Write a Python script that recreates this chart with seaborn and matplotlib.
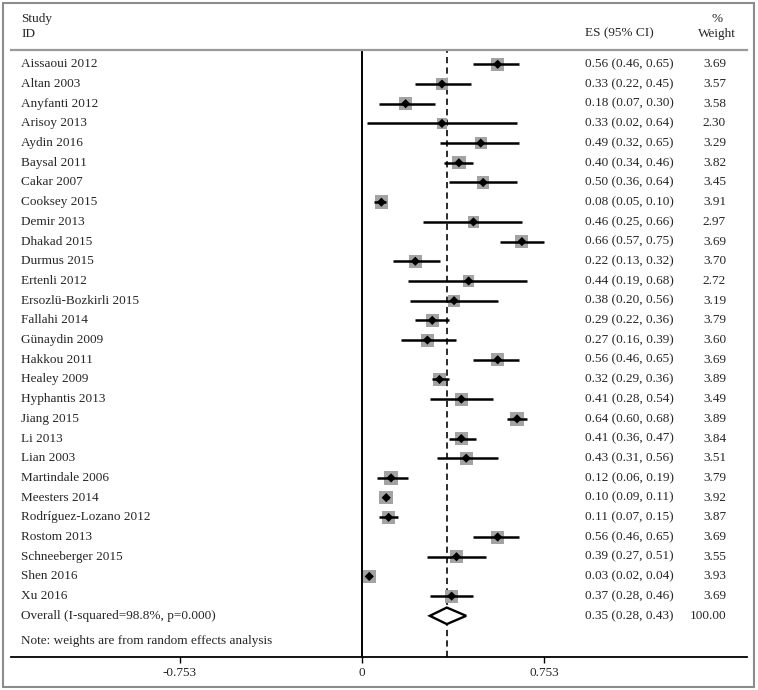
import matplotlib
matplotlib.use("Agg")
import matplotlib.pyplot as plt
import seaborn as sns
import pandas as pd
from matplotlib.patches import Rectangle

studies = [
    "Aissaoui 2012", "Altan 2003", "Anyfanti 2012", "Arisoy 2013", "Aydin 2016",
    "Baysal 2011", "Cakar 2007", "Cooksey 2015", "Demir 2013", "Dhakad 2015",
    "Durmus 2015", "Ertenli 2012", "Ersozlü-Bozkirli 2015", "Fallahi 2014",
    "Günaydin 2009", "Hakkou 2011", "Healey 2009", "Hyphantis 2013", "Jiang 2015",
    "Li 2013", "Lian 2003", "Martindale 2006", "Meesters 2014",
    "Rodríguez-Lozano 2012", "Rostom 2013", "Schneeberger 2015", "Shen 2016", "Xu 2016",
]
es = [0.56, 0.33, 0.18, 0.33, 0.49, 0.40, 0.50, 0.08, 0.46, 0.66, 0.22, 0.44, 0.38, 0.29,
      0.27, 0.56, 0.32, 0.41, 0.64, 0.41, 0.43, 0.12, 0.10, 0.11, 0.56, 0.39, 0.03, 0.37]
ci_low = [0.46, 0.22, 0.07, 0.02, 0.32, 0.34, 0.36, 0.05, 0.25, 0.57, 0.13, 0.19, 0.20, 0.22,
          0.16, 0.46, 0.29, 0.28, 0.60, 0.36, 0.31, 0.06, 0.09, 0.07, 0.46, 0.27, 0.02, 0.28]
ci_high = [0.65, 0.45, 0.30, 0.64, 0.65, 0.46, 0.64, 0.10, 0.66, 0.75, 0.32, 0.68, 0.56, 0.36,
           0.39, 0.65, 0.36, 0.54, 0.68, 0.47, 0.56, 0.19, 0.11, 0.15, 0.65, 0.51, 0.04, 0.46]
weight = [3.69, 3.57, 3.58, 2.30, 3.29, 3.82, 3.45, 3.91, 2.97, 3.69, 3.70, 2.72, 3.19, 3.79,
          3.60, 3.69, 3.89, 3.49, 3.89, 3.84, 3.51, 3.79, 3.92, 3.87, 3.69, 3.55, 3.93, 3.69]
overall_label = "Overall (I-squared=98.8%, p=0.000)"
overall_es, overall_low, overall_high = 0.35, 0.28, 0.43
overall_weight = 100.00
xticks = [-0.753, 0, 0.753]
xtick_labels = ["-0.753", "0", "0.753"]

df = pd.DataFrame({"study": studies, "es": es, "low": ci_low, "high": ci_high, "weight": weight})
df["row"] = range(len(df))

sns.set_theme(style="white")
plt.rcParams["font.family"] = ["Liberation Serif", "DejaVu Serif"]
plt.rcParams["lines.scale_dashes"] = False
fs = 9.5

fig = plt.figure(figsize=(7.58, 6.9), dpi=100)
ax = fig.add_axes([11 / 758, 33 / 690, 736 / 758, 607 / 690])

# outer frame
fig.patches.append(Rectangle((2.5 / 758, 3 / 690), 751 / 758, 684 / 690, transform=fig.transFigure,
                             fill=False, edgecolor="#8c8c8c", linewidth=1.5))

ax.axvline(0, color="black", lw=1.4)
ax.axvline(overall_es, color="#1a1a1a", lw=1.3, linestyle=(0, (4.5, 3)))

# CI lines
ax.hlines(df["row"], df["low"], df["high"], color="black", lw=1.8, zorder=3)
# weight boxes
sns.scatterplot(data=df, x="es", y="row", marker="s", s=df["weight"] * 24, color="#a3a3a3",
                edgecolor="none", linewidth=0, ax=ax, zorder=2, legend=False)
sns.scatterplot(data=df, x="es", y="row", marker="D", s=22, color="black",
                edgecolor="none", linewidth=0, ax=ax, zorder=4, legend=False)

# overall diamond
n = len(df)
ax.fill([overall_low, overall_es, overall_high, overall_es],
        [n, n - 0.42, n, n + 0.42], facecolor="white", edgecolor="black", lw=1.7, zorder=5)

ax.set_xlim(-1.4486, 1.589)
ax.set_ylim(30.09, -0.726)
ax.set_xticks(xticks)
ax.set_xticklabels(xtick_labels, fontsize=fs)
ax.set_yticks([])
ax.set_xlabel("")
ax.set_ylabel("")
ax.tick_params(axis="x", direction="out", length=4, width=1, color="black", pad=3, bottom=True)
for side in ["left", "right"]:
    ax.spines[side].set_visible(False)
ax.spines["bottom"].set_color("black")
ax.spines["bottom"].set_linewidth(1.3)
ax.spines["top"].set_color("#9a9a9a")
ax.spines["top"].set_linewidth(1.6)

tr = ax.get_yaxis_transform()
x_name, x_es, x_w = 0.0136, 0.780, 0.9715
for _, r in df.iterrows():
    ax.text(x_name, r["row"], r["study"], transform=tr, va="center", ha="left", fontsize=fs)
    ax.text(x_es, r["row"], f"{r['es']:.2f} ({r['low']:.2f}, {r['high']:.2f})", transform=tr,
            va="center", ha="left", fontsize=fs)
    ax.text(x_w, r["row"], f"{r['weight']:.2f}", transform=tr, va="center", ha="right", fontsize=fs)

ax.text(x_name, n, overall_label, transform=tr, va="center", ha="left", fontsize=fs)
ax.text(x_es, n, f"{overall_es:.2f} ({overall_low:.2f}, {overall_high:.2f})", transform=tr,
        va="center", ha="left", fontsize=fs)
ax.text(x_w, n, f"{overall_weight:.2f}", transform=tr, va="center", ha="right", fontsize=fs)
ax.text(x_name, n + 1.27, "Note: weights are from random effects analysis", transform=tr,
        va="center", ha="left", fontsize=fs)

# header
ax.text(x_name, -2.3, "Study", transform=tr, va="center", ha="left", fontsize=fs, clip_on=False)
ax.text(x_name, -1.55, "ID", transform=tr, va="center", ha="left", fontsize=fs, clip_on=False)
ax.text(x_es, -1.55, "ES (95% CI)", transform=tr, va="center", ha="left", fontsize=fs, clip_on=False)
ax.text(0.959, -2.3, "%", transform=tr, va="center", ha="center", fontsize=fs, clip_on=False)
ax.text(0.959, -1.55, "Weight", transform=tr, va="center", ha="center", fontsize=fs, clip_on=False)

fig.savefig("out.png", dpi=100)
